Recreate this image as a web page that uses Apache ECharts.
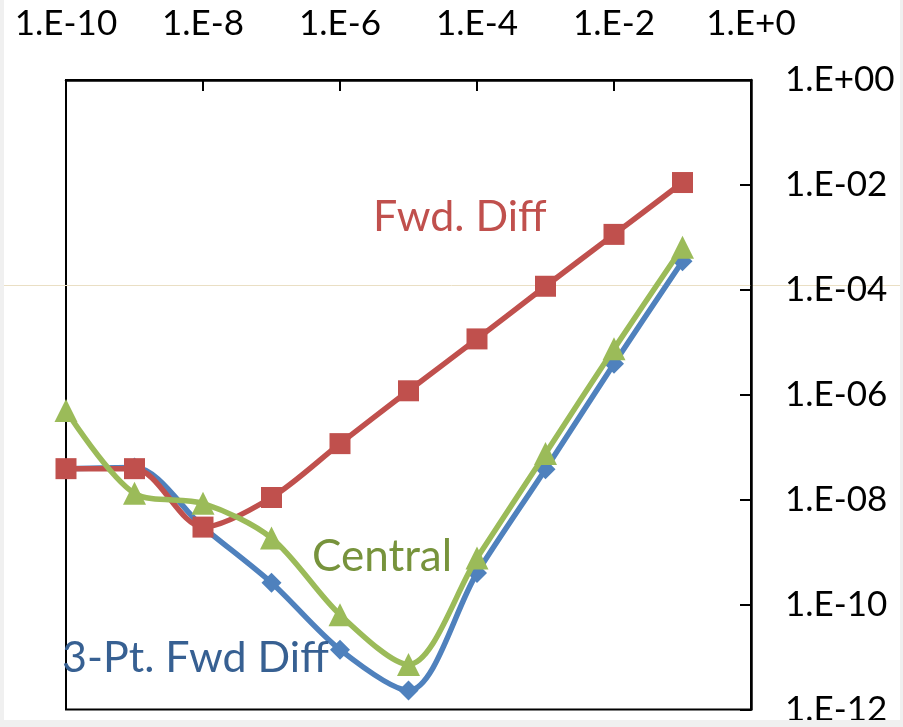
<!DOCTYPE html>
<html>
<head>
<meta charset="utf-8">
<script src="https://cdn.jsdelivr.net/npm/echarts@6/dist/echarts.min.js"></script>
<style>
  html, body { margin: 0; padding: 0; background: #ffffff; }
  #chart { width: 903px; height: 727px; }
</style>
</head>
<body>
<div id="chart"></div>
<script>
// Step sizes h (one per decade)
const stepSizes = [1e-10, 1e-9, 1e-8, 1e-7, 1e-6, 1e-5, 1e-4, 1e-3, 1e-2, 1e-1];

// Absolute error of each derivative approximation
const fwdDiff     = [3.9e-8, 3.9e-8, 3.0e-9, 1.1e-8, 1.17e-7, 1.19e-6, 1.16e-5, 1.17e-4, 1.14e-3, 1.11e-2];
const centralDiff = [5.0e-7, 1.32e-8, 8.5e-9, 1.85e-9, 6.4e-11, 7.2e-12, 7.7e-10, 7.6e-8, 7.5e-6, 6.5e-4];
const threePtDiff = [3.9e-8, 4.1e-8, 3.0e-9, 2.6e-10, 1.38e-11, 2.3e-12, 4.0e-10, 3.8e-8, 3.9e-6, 3.5e-4];

// Tick labels, every second decade
const xTickLabels = ['1.E-10', '1.E-8', '1.E-6', '1.E-4', '1.E-2', '1.E+0'];
const yTickLabels = ['1.E-12', '1.E-10', '1.E-08', '1.E-06', '1.E-04', '1.E-02', '1.E+00'];

const pairs = (ys) => stepSizes.map((x, i) => [x, ys[i]]);
const FONT = 'Lato, "Open Sans", sans-serif';

const chart = echarts.init(document.getElementById('chart'), null, { renderer: 'canvas' });

chart.setOption({
  backgroundColor: '#ffffff',
  animation: false,
  grid: {
    left: 66, top: 80, right: 152, bottom: 16,
    show: true, borderColor: '#000000', borderWidth: 2
  },
  xAxis: {
    type: 'log', logBase: 10, position: 'top',
    min: 1e-10, max: 1, interval: 2,
    axisLine: { show: true, lineStyle: { color: '#000', width: 2.5 } },
    axisTick: { show: true, inside: true, length: 11, lineStyle: { color: '#000', width: 2 } },
    minorTick: { show: false },
    splitLine: { show: false },
    axisLabel: {
      margin: 39, color: '#000', fontFamily: FONT, fontSize: 35,
      formatter: (v) => xTickLabels[Math.round((Math.log10(v) + 10) / 2)]
    }
  },
  yAxis: {
    type: 'log', logBase: 10, position: 'right',
    min: 1e-12, max: 1, interval: 2,
    axisLine: { show: true, lineStyle: { color: '#000', width: 2.5 } },
    axisTick: { show: true, inside: true, length: 11, lineStyle: { color: '#000', width: 2 } },
    splitLine: { show: false },
    axisLabel: {
      margin: 34, color: '#000', fontFamily: FONT, fontSize: 35, align: 'left',
      formatter: (v) => yTickLabels[Math.round((Math.log10(v) + 12) / 2)]
    }
  },
  series: [
    {
      name: '3-Pt. Fwd Diff', type: 'line', smooth: 0.3,
      data: pairs(threePtDiff),
      symbol: 'diamond', symbolSize: 20,
      lineStyle: { color: '#4F81BD', width: 5.5 },
      itemStyle: { color: '#4F81BD' },
      z: 2
    },
    {
      name: 'Fwd. Diff', type: 'line', smooth: 0.3,
      data: pairs(fwdDiff),
      symbol: 'rect', symbolSize: 21,
      lineStyle: { color: '#C0504D', width: 5.5 },
      itemStyle: { color: '#C0504D' },
      z: 3
    },
    {
      name: 'Central', type: 'line', smooth: 0.3,
      data: pairs(centralDiff),
      symbol: 'triangle', symbolSize: 23,
      lineStyle: { color: '#9BBB59', width: 5.5 },
      itemStyle: { color: '#9BBB59' },
      z: 4
    }
  ],
  graphic: [
    // faint horizontal rule running across the page
    { type: 'line', z: 0, silent: true,
      shape: { x1: 0, y1: 285.5, x2: 903, y2: 285.5 },
      style: { stroke: '#eadfc4', lineWidth: 1 } },
    // series captions
    { type: 'text', left: 373, top: 196, z: 10,
      style: { text: 'Fwd. Diff', fill: '#C0504D', font: '43px ' + FONT } },
    { type: 'text', left: 312, top: 535, z: 10,
      style: { text: 'Central', fill: '#77933C', font: '44px ' + FONT } },
    { type: 'text', left: 62, top: 637, z: 10,
      style: { text: '3-Pt. Fwd Diff', fill: '#376092', font: '43px ' + FONT } },
    // light page edges
    { type: 'rect', z: 20, silent: true, shape: { x: 0, y: 0, width: 4, height: 727 }, style: { fill: '#f0f0f0' } },
    { type: 'rect', z: 20, silent: true, shape: { x: 900, y: 0, width: 3, height: 727 }, style: { fill: '#f0f0f0' } },
    { type: 'rect', z: 20, silent: true, shape: { x: 0, y: 720, width: 903, height: 7 }, style: { fill: '#f0f0f0' } }
  ]
});
</script>
</body>
</html>
